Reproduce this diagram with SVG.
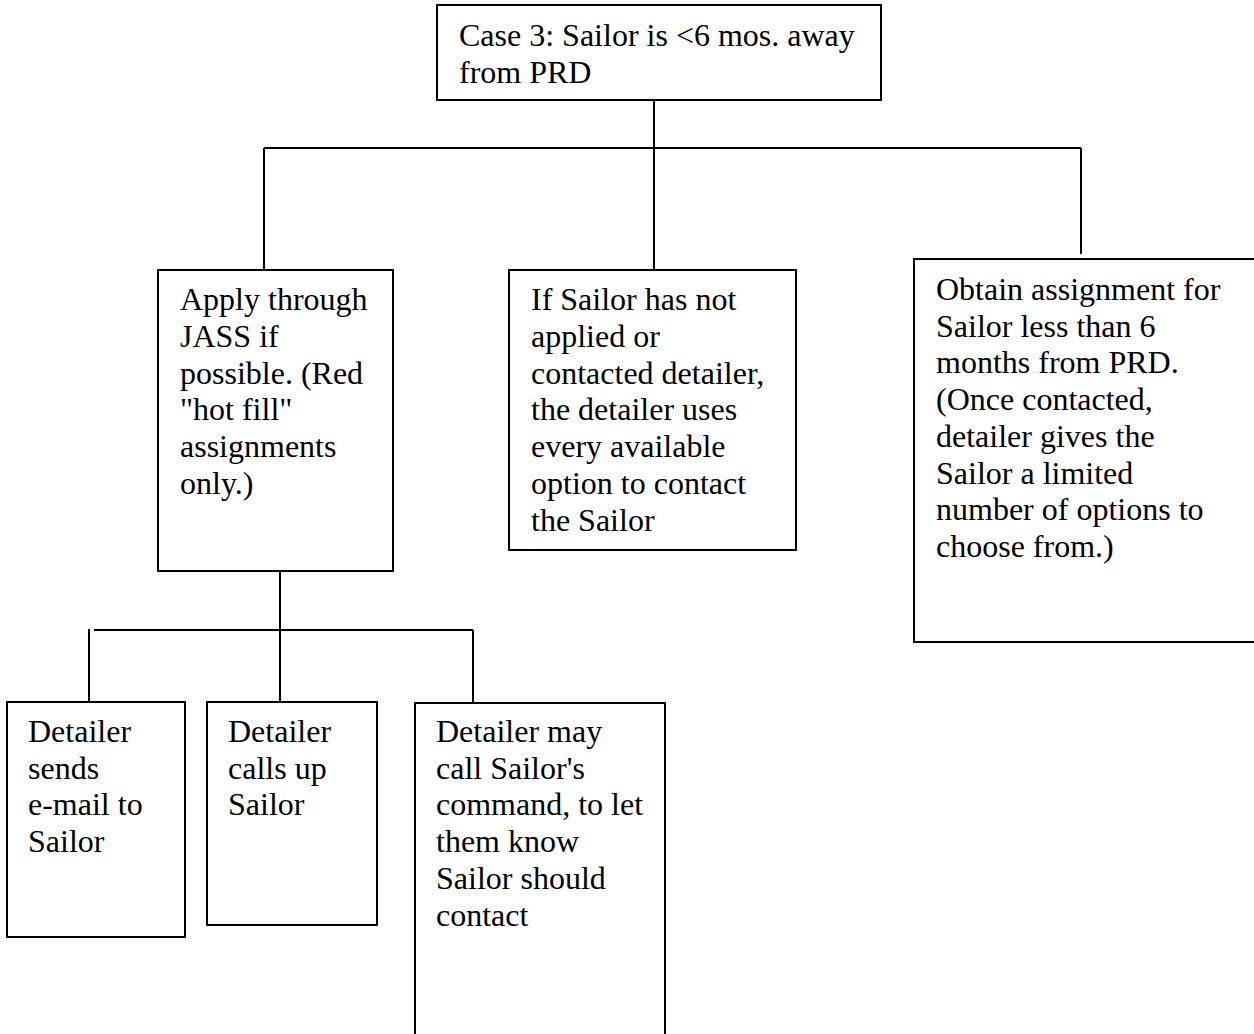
<svg xmlns="http://www.w3.org/2000/svg" width="1254" height="1034" viewBox="0 0 1254 1034">
  <style>
    .box { fill: #fff; stroke: #000; stroke-width: 2; }
    .wire { fill: none; stroke: #000; stroke-width: 2; }
    .lbl { font-family: "Liberation Serif", "Times New Roman", serif; font-size: 32px; fill: #000; }
  </style>
  <rect width="1254" height="1034" fill="#fff"/>

  <!-- tree connectors -->
  <g id="connectors">
    <path class="wire" d="M654 100 V148"/>
    <path class="wire" d="M264 148 H1081"/>
    <path class="wire" d="M264 148 V270"/>
    <path class="wire" d="M654 148 V270"/>
    <path class="wire" d="M1081 148 V254"/>
    <path class="wire" d="M280 571 V702"/>
    <path class="wire" d="M94 630 H473"/>
    <path class="wire" d="M89 629 V702"/>
    <path class="wire" d="M473 630 V703"/>
  </g>

  <g id="case3">
    <rect class="box" x="437" y="5" width="444" height="95"/>
    <text class="lbl" x="459" y="46">Case 3: Sailor is &lt;6 mos. away</text>
    <text class="lbl" x="459" y="83">from PRD</text>
  </g>

  <g id="apply-jass">
    <rect class="box" x="158" y="270" width="235" height="301"/>
    <text class="lbl" x="180" y="310">Apply through</text>
    <text class="lbl" x="180" y="347">JASS if</text>
    <text class="lbl" x="180" y="384">possible. (Red</text>
    <text class="lbl" x="180" y="420">"hot fill"</text>
    <text class="lbl" x="180" y="457">assignments</text>
    <text class="lbl" x="180" y="494">only.)</text>
  </g>

  <g id="not-applied">
    <rect class="box" x="509" y="270" width="287" height="280"/>
    <text class="lbl" x="531" y="310">If Sailor has not</text>
    <text class="lbl" x="531" y="347">applied or</text>
    <text class="lbl" x="531" y="384">contacted detailer,</text>
    <text class="lbl" x="531" y="420">the detailer uses</text>
    <text class="lbl" x="531" y="457">every available</text>
    <text class="lbl" x="531" y="494">option to contact</text>
    <text class="lbl" x="531" y="531">the Sailor</text>
  </g>

  <g id="obtain-assignment">
    <rect class="box" x="914" y="259" width="346" height="383"/>
    <text class="lbl" x="936" y="300">Obtain assignment for</text>
    <text class="lbl" x="936" y="337">Sailor less than 6</text>
    <text class="lbl" x="936" y="373">months from PRD.</text>
    <text class="lbl" x="936" y="410">(Once contacted,</text>
    <text class="lbl" x="936" y="447">detailer gives the</text>
    <text class="lbl" x="936" y="484">Sailor a limited</text>
    <text class="lbl" x="936" y="520">number of options to</text>
    <text class="lbl" x="936" y="557">choose from.)</text>
  </g>

  <g id="send-email">
    <rect class="box" x="7" y="702" width="178" height="235"/>
    <text class="lbl" x="28" y="742">Detailer</text>
    <text class="lbl" x="28" y="779">sends</text>
    <text class="lbl" x="28" y="815">e-mail to</text>
    <text class="lbl" x="28" y="852">Sailor</text>
  </g>

  <g id="call-sailor">
    <rect class="box" x="207" y="702" width="170" height="223"/>
    <text class="lbl" x="228" y="742">Detailer</text>
    <text class="lbl" x="228" y="779">calls up</text>
    <text class="lbl" x="228" y="815">Sailor</text>
  </g>

  <g id="call-command">
    <rect class="box" x="415" y="703" width="250" height="340"/>
    <text class="lbl" x="436" y="742">Detailer may</text>
    <text class="lbl" x="436" y="779">call Sailor's</text>
    <text class="lbl" x="436" y="815">command, to let</text>
    <text class="lbl" x="436" y="852">them know</text>
    <text class="lbl" x="436" y="889">Sailor should</text>
    <text class="lbl" x="436" y="926">contact</text>
  </g>
</svg>
